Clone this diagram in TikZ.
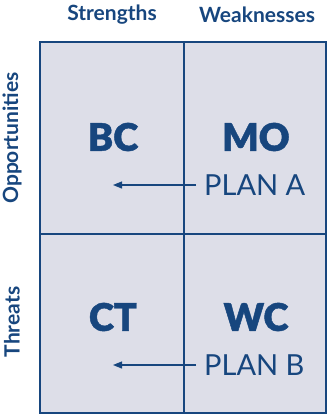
\documentclass[tikz,border=0pt]{standalone}
\usepackage{fontspec}
\setmainfont{Lato}
\newfontfamily\heavyfont[FakeBold=1.2]{Lato Bold}
\usetikzlibrary{arrows.meta}
\definecolor{ink}{HTML}{17467E}
\definecolor{cell}{HTML}{DDDEE8}
\tikzset{
  cellbox/.style={draw=ink, line width=1.1pt, fill=cell},
  head/.style={text=ink, font=\fontsize{21}{24}\selectfont\bfseries, inner sep=0pt},
  code/.style={text=ink, font=\fontsize{38}{42}\selectfont\bfseries, inner sep=0pt},
  plan/.style={text=ink, font=\fontsize{29}{32}\selectfont, inner sep=0pt},
  planarrow/.style={draw=ink, line width=1.1pt, -{Triangle[length=9pt,width=7pt]}}
}
\begin{document}
\begin{tikzpicture}[x=1pt,y=-1pt]
\useasboundingbox (0,0) rectangle (327,416);
\draw[cellbox] (40,42) rectangle (326,413);
\draw[draw=ink, line width=1.1pt] (184,42) -- (184,413);
\draw[draw=ink, line width=1.1pt] (40,234) -- (326,234);
\node[head] (s) at (112,15) {Strengths};
\node[head] (w) at (257,15) {Weaknesses};
\node[head, rotate=90] (o) at (12,138) {Opportunities};
\node[head, rotate=90] (t) at (12,322) {Threats};
\node[code] (bc) at (113,137) {\heavyfont BC};
\node[code] (mo) at (256,137) {\heavyfont MO};
\node[code] (ct) at (113,317) {\heavyfont CT};
\node[code] (wc) at (256,317) {\heavyfont WC};
\node[plan, anchor=west] (pa) at (204,185) {PLAN A};
\node[plan, anchor=west] (pb) at (204,365) {PLAN B};
\coordinate (ea) at (113,185);
\coordinate (eb) at (113,365);
\draw[planarrow] (pa.west) ++(-8,0) -- (ea);
\draw[planarrow] (pb.west) ++(-8,0) -- (eb);
\end{tikzpicture}
\end{document}
